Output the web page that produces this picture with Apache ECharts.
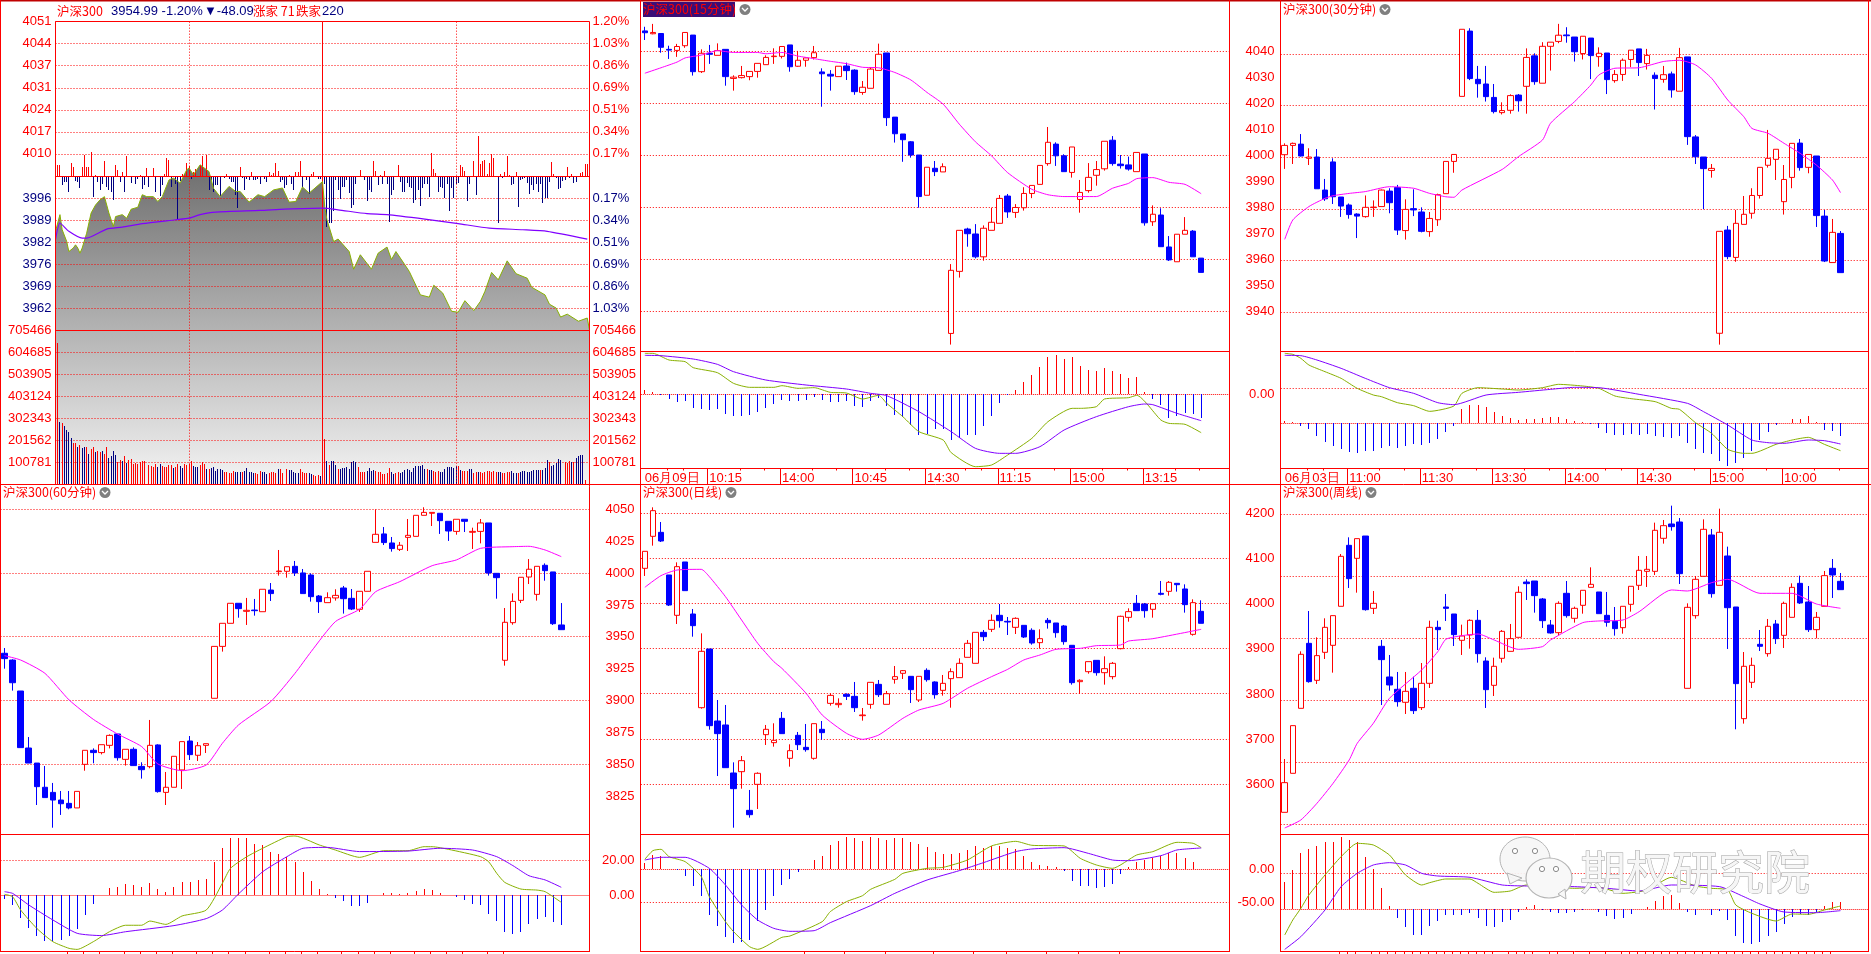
<!DOCTYPE html>
<html><head><meta charset="utf-8">
<style>html,body{margin:0;padding:0;background:#fff}#c{width:1871px;height:954px}</style>
<script src="https://cdn.jsdelivr.net/npm/echarts@6/dist/echarts.min.js"></script>
</head><body><div id="c"></div>
<script>
// ===== Intraday (分时) =====
const dayPrice=[[0,3985.8],[2,3991],[3,3986.3],[5,3982.7],[6,3979.5],[8,3980.6],[9,3981.6],[10,3980.6],[11,3979],[12,3980.6],[14,3985.2],[16,3991.5],[18,3994],[20,3995.6],[22,3996.6],[24,3991.5],[26,3987.3],[27,3990.4],[30,3991],[32,3989.9],[34,3992.7],[37,3993.3],[39,3997.2],[41,3996.6],[44,3996.6],[46,3995.1],[48,3996.6],[51,4001.8],[53,4002.4],[56,4000.8],[59,4005],[60,4005.5],[62,4003.4],[65,4006.5],[69,4004.4],[71,3999.2],[74,3996.6],[78,3999.8],[81,3998.2],[83,3998.2],[87,3994.9],[91,3997.2],[94,3996.6],[98,3998.7],[102,3999.3],[105,3994.9],[108,3995.1],[111,3999.6],[114,3997.7],[120,4001.3],[121,3993.5],[122,3989.4],[125,3982.6],[127,3983.4],[132,3979.5],[134,3974],[137,3978.5],[142,3974],[145,3979],[149,3980.9],[151,3977],[153,3979.5],[157,3975.4],[159,3973.3],[164,3966],[168,3965.3],[170,3969],[174,3966.6],[178,3960.9],[181,3960.6],[184,3964.2],[188,3961.1],[191,3964],[193,3967.1],[196,3973],[199,3970.7],[203,3976.6],[207,3972.6],[212,3971.2],[214,3968.4],[220,3966],[222,3963.1],[225,3961.9],[227,3959.1],[230,3960],[235,3957.8],[239,3958.8],[240,3955]];
const dayAvg=[[0,3983.2],[2,3988.4],[6,3985.8],[12,3983.7],[14,3983.7],[23,3986.5],[30,3987.1],[39,3988.2],[54,3989.4],[60,3989.9],[65,3991],[72,3991.8],[92,3992.3],[103,3992.7],[120,3993],[127,3992.5],[140,3991.3],[149,3991],[166,3989.6],[181,3988.2],[195,3986.8],[210,3986.3],[221,3985.8],[239,3983.4]];
const dayBreadth=[[1,33],[2,33],[3,-25],[4,-16],[5,-18],[6,-47],[7,40],[8,28],[9,-14],[10,-17],[11,-35],[12,28],[13,65],[14,28],[15,28],[16,73],[17,-62],[18,4],[19,-17],[20,-40],[21,-22],[22,46],[23,-32],[24,-40],[25,-46],[26,-70],[27,33],[28,19],[29,-17],[30,12],[31,-47],[32,62],[34,-20],[36,-22],[37,-8],[38,4],[39,-38],[40,-25],[41,25],[42,-32],[44,25],[45,-47],[47,-60],[48,-25],[49,6],[50,55],[51,49],[52,-32],[54,-22],[55,-130],[56,-15],[57,6],[58,7],[59,40],[60,30],[61,-8],[62,12],[63,22],[65,33],[66,60],[68,65],[69,-40],[70,-10],[71,-48],[72,-25],[73,-25],[74,-60],[76,-5],[77,8],[78,-8],[79,-17],[80,-17],[81,-55],[82,-95],[83,28],[84,-5],[85,-40],[86,-8],[87,-10],[88,12],[89,-10],[90,-12],[91,-8],[92,-22],[94,-8],[95,-17],[96,12],[97,5],[98,10],[99,40],[100,15],[101,-16],[102,-12],[103,-35],[104,-27],[105,5],[106,-22],[107,-40],[108,12],[109,12],[110,45],[111,-32],[113,-10],[114,-52],[115,8],[116,12],[118,-8],[119,-8],[120,-10],[121,-22],[122,-152],[123,-140],[124,-140],[125,-105],[126,-12],[127,-40],[128,-68],[129,-32],[130,-32],[131,-12],[132,-50],[133,-95],[134,-85],[135,-22],[137,20],[139,-12],[140,-74],[141,-40],[142,-47],[143,47],[144,16],[145,-26],[146,4],[147,-24],[148,16],[149,-24],[150,-138],[151,-55],[152,-40],[154,33],[155,-18],[156,-47],[157,-47],[158,-20],[159,-33],[160,-35],[161,-80],[162,-70],[163,-40],[164,-88],[165,-35],[166,-24],[167,-24],[168,-62],[169,70],[170,22],[171,10],[172,-47],[173,-32],[174,-35],[175,-65],[176,-24],[177,-105],[178,-35],[179,-65],[180,-22],[181,-20],[182,35],[183,28],[184,16],[185,-75],[186,-24],[188,45],[189,-55],[190,120],[191,36],[192,46],[193,50],[194,6],[195,40],[196,68],[197,55],[199,-140],[200,7],[201,-5],[202,12],[203,60],[204,4],[205,-26],[206,-22],[207,12],[208,-92],[209,-12],[210,-8],[211,-5],[212,-20],[213,-52],[214,-26],[215,-42],[216,-24],[217,-47],[218,-24],[219,-80],[220,-65],[221,-65],[222,-18],[223,43],[224,7],[225,-5],[226,-38],[227,-35],[228,-14],[229,-12],[230,27],[231,-5],[232,7],[233,-20],[234,-18],[236,10],[237,14],[238,37],[239,37]];
const dayVol=[0,647,284,280,267,249,240,213,191,191,169,182,164,169,173,138,160,173,147,151,147,151,138,169,120,129,151,133,102,111,107,129,98,111,116,93,98,93,102,107,107,0,89,84,80,93,80,93,84,80,80,89,89,76,80,93,84,76,93,89,93,107,84,80,80,89,102,93,71,71,76,80,62,71,71,67,58,58,53,53,62,58,58,58,58,62,76,58,58,53,53,49,62,58,58,49,53,58,58,53,71,71,53,0,71,67,67,58,53,53,71,58,53,53,53,49,44,40,44,40,84,
209,107,89,107,107,89,71,71,76,76,80,71,102,107,102,80,58,58,58,62,76,62,67,62,58,58,49,49,53,76,58,49,53,58,53,58,67,71,67,58,76,84,84,84,89,71,71,67,67,62,58,62,58,58,71,80,80,80,76,84,84,67,62,62,62,71,71,53,58,58,58,53,58,62,62,58,62,58,58,58,53,53,58,58,62,53,53,53,58,62,62,58,58,62,67,67,67,67,67,76,111,102,84,89,98,116,111,0,102,98,107,102,102,120,129,133,133,18,0,0];
const dayVolSide="rbrbbbbrrbrbbrbrrbrrbrrbbbbrrbrbrrrrrrrrbrrrrbbrrrrrbrrbbrrrrbbbrrrbrbbbbbbrrrrrbbbrbbbbbrrrbbbrrrrbrrbrbbbbbrrrrbbrrrbrr"+"brbbbrbbbbbbbbrrrrbbbbrrrrrrrbbrrbbbbbbbbbbbbrbbrrrbbbbbbbbrbrrrbbrrbrrrrrrrrbbrrrrbbbrbbbbbbbbbrbbbrbbbbbbrrrbrbbbbrrrr";
const dayLeftLabels=['4051','4044','4037','4031','4024','4017','4010','','3996','3989','3982','3976','3969','3962','705466','604685','503905','403124','302343','201562','100781',''];
const dayRightLabels=['1.20%','1.03%','0.86%','0.69%','0.51%','0.34%','0.17%','','0.17%','0.34%','0.51%','0.69%','0.86%','1.03%','705466','604685','503905','403124','302343','201562','100781',''];

// ===== 15 min =====
const m15Candles=[[4048,4047.3,4044.5,4049.6],[4046.9,4047.4,4046.7,4050.7],[4047,4041.7,4039.6,4047],[4040.9,4040.6,4037.2,4042.3],[4040.5,4042,4038,4043],[4042.3,4047.4,4041.5,4047.4],[4046.4,4032.3,4030.8,4046.4],[4032.3,4039.4,4031.8,4040.9],[4039.4,4039,4035.3,4042.6],[4038.6,4040.4,4038.6,4043.2],[4040.9,4030.4,4026.9,4040.9],[4029.7,4030.2,4025,4030.9],[4030,4030.8,4029.7,4034.5],[4030.4,4032.4,4029,4032.4],[4032.4,4035.5,4030,4035.5],[4035,4037.8,4035,4038.6],[4038.1,4038.3,4035.3,4041.3],[4038.2,4042,4037.4,4042],[4042.6,4034.2,4032.3,4042.6],[4034.4,4036.7,4034.2,4040.3],[4036.7,4037.6,4034.2,4037.8],[4037.7,4039.6,4037,4042.2],[4032.2,4031.5,4018.8,4033.6],[4031.3,4030.6,4025,4032.9],[4030.4,4034.4,4030.4,4034.4],[4034.5,4032.7,4029.1,4035.8],[4032.9,4024.6,4023.4,4033.2],[4024.3,4026.3,4023.4,4028.7],[4025.9,4033.3,4025.9,4034],[4032.8,4039,4032.8,4043.1],[4039.5,4014.6,4011.4,4039.5],[4014.8,4008.4,4005,4014.8],[4008.3,4006.1,3997.6,4008.3],[4005.3,4000.2,3999.2,4005.6],[4000.2,3984.2,3979.9,4000.2],[3984.7,3995.5,3984.7,3995.5],[3995.1,3993.8,3992.1,3997.9],[3993.7,3995.7,3993.7,3997],[3931.5,3955.8,3927.2,3958.2],[3955.4,3971.2,3953,3971.2],[3971.7,3969.9,3964.9,3972.2],[3969.8,3961,3960.4,3973.6],[3961,3972,3959.5,3973.1],[3971.2,3974.3,3971.2,3979.9],[3973.9,3983.5,3973.9,3984.8],[3984.4,3978.3,3976,3985.2],[3978.1,3980,3976,3981.3],[3979.9,3985.4,3978.8,3987.8],[3985.4,3988.5,3983.6,3988.5],[3988.9,3996.2,3988.9,3996.2],[3996.9,4005.1,3996.1,4011],[4004.4,3999.9,3996,4005.1],[3999.9,3993.8,3993.8,4000.5],[3993.5,4003.3,3991.5,4003.3],[3983.1,3985.8,3978,3990.6],[3986.5,3991.6,3985.7,3997.1],[3992.4,3994.6,3988.4,3997.9],[3994.9,4005.5,3994.2,4005.5],[4005.9,3996.9,3996.1,4007.5],[3996.7,3996.1,3995,4000.2],[3996.4,3994.8,3994.2,3999.6],[3993.8,4001.2,3993.8,4001.2],[4000.6,3974.1,3973,4000.6],[3974.5,3977.4,3972.9,3980.8],[3977.1,3964.9,3964.9,3979.7],[3964.8,3959.8,3959.4,3969],[3959.1,3969.7,3959.1,3969.7],[3969.7,3971.2,3969.7,3976.3],[3970.9,3961,3961,3971.3],[3960.5,3955,3955,3960.5]];
const m15Ma=[[0,4031.7],[2,4033.8],[4,4036],[5,4037.6],[7,4038.7],[9,4040.4],[11,4039.7],[14,4039.7],[15,4039.2],[17,4039.7],[19,4038.3],[21,4037.3],[23,4036.3],[25,4035.4],[27,4034],[29,4033.8],[31,4032],[33,4029.1],[35,4024.3],[37,4019.8],[39,4012.1],[41,4005.3],[43,3999.9],[45,3993.4],[48,3987],[50,3984.9],[52,3984.2],[56,3984.2],[58,3987.4],[60,3989.3],[61,3991.1],[63,3991.5],[65,3989.7],[67,3988.9],[69,3985.3]];
const m15Hist=[1.2,.7,-.2,-1.4,-2.2,-2,-4.1,-4.4,-4.6,-4.4,-5.9,-6.5,-6.4,-6.1,-5.3,-4,-2.9,-1.7,-2,-2.1,-1.7,-.9,-1.7,-2.2,-2.2,-2,-3.4,-3.8,-2.1,-1,-3.5,-6.2,-6.8,-9.2,-12.2,-12,-10.4,-10.5,-13.7,-13,-12.1,-12.2,-9.5,-6.4,-2.6,-.2,1.2,3.7,5.8,8.2,11.2,11.8,10.6,11.1,8.5,7.3,6.9,7.8,7,6,4.8,5.1,.7,-1.3,-3.1,-7,-6.4,-5.5,-6,-7];
const m15Dif=[[0,12.3],[1,12.3],[3,10.3],[5,9.8],[6,8],[9,6.5],[11,3.3],[13,2.1],[16,2.1],[17,2.6],[19,1.8],[21,2],[23,.6],[25,.4],[27,-1.4],[29,-.3],[30,-2.7],[32,-6.7],[34,-11.2],[37,-13.7],[38,-17.5],[41,-21.7],[43,-21.2],[45,-18.2],[48,-13.2],[50,-8.2],[53,-4.2],[54,-4.2],[56,-3.7],[57,-1.4],[60,-1],[61,-.3],[64,-7.7],[65,-8.7],[67,-9],[69,-11.5]];
const m15Dea=[[0,11.7],[2,11.6],[6,10.6],[9,9],[11,6.8],[15,4.3],[20,2.8],[25,1.6],[28,.3],[30,-.4],[34,-5.2],[38,-11.2],[41,-16.2],[44,-17.7],[46,-17.7],[49,-15.7],[52,-10.7],[56,-6.7],[60,-3.7],[62,-2.9],[63,-3.1],[66,-5.7],[69,-7.9]];
const m15Labels=[4040,4030,4020,4010,4000,3990,3980,3970,3960,3950,3940];
const m15Grid=[4040,4020,4000,3980,3960,3940];
const m15Times=['06月09日','10:15','14:00','10:45','14:30','11:15','15:00','13:15'];

// ===== 30 min =====
const m30Candles=[[4001.1,4004.7,3995.6,4005.5],[4004.7,4005.5,3997.5,4005.8],[4005.2,4000.6,4000.4,4009.1],[3999.7,4000.2,3997.1,4003.6],[4000.2,3987.9,3987.9,4003.3],[3987.4,3984,3983.2,3991.7],[3998.3,3984.8,3982,3999.7],[3984.7,3981.2,3977,3984.7],[3981.6,3977.9,3976.3,3982.2],[3978.1,3977.3,3968.8,3978.4],[3977.1,3980.7,3976.7,3985.3],[3980.6,3980.8,3977,3983.4],[3981,3987.4,3981,3987.6],[3987,3982.5,3978.4,3988.1],[3988.4,3971.9,3970,3989.4],[3971.7,3979.9,3968.2,3983.8],[3980.2,3979.7,3977.3,3987.7],[3978.9,3971.4,3971,3980.7],[3971.3,3976.4,3969.3,3978.9],[3975.9,3985.6,3973.5,3986],[3986,3998.5,3986,3998.5],[3998.5,4001.2,3994.1,4001.2],[4023.7,4049.7,4023.7,4049.7],[4049,4030.6,4030,4050.1],[4030.3,4028.6,4023.2,4035.5],[4028.5,4023.6,4021.7,4035.5],[4023.3,4017.8,4017.1,4028.5],[4017.4,4018.2,4016.7,4021.4],[4018.3,4024,4017,4024.5],[4024.2,4022,4017.8,4024.6],[4027.6,4038.8,4017,4042.3],[4039.4,4029.4,4028.2,4040.4],[4028.8,4043.1,4028.8,4044.7],[4043.1,4044.7,4033.7,4044.7],[4045,4047.4,4044.3,4051.8],[4047.5,4047.2,4044.5,4050.5],[4046.7,4041,4037.2,4046.7],[4040.3,4047,4038,4047],[4046.3,4039.5,4030.4,4046.3],[4039.1,4040.4,4035.2,4042.7],[4040.5,4030.2,4024.6,4040.5],[4029.8,4032.2,4029,4033.9],[4032.2,4037.7,4029.7,4038.4],[4038,4041.6,4035,4041.6],[4042.1,4036.8,4031.6,4042.1],[4036.4,4039.6,4034.1,4042.1],[4031.9,4030.6,4018.6,4033],[4030.3,4032.1,4029,4035.5],[4032.4,4026.2,4023.2,4033.3],[4025.7,4038.7,4025.7,4042.5],[4039,4008.1,4004.9,4039],[4008,4000.3,3997.5,4008.7],[4000.2,3995.7,3980,4000.2],[3995,3995.8,3992.2,3997.5],[3931.9,3971.4,3927.5,3971.4],[3971.9,3961.6,3960.6,3973.5],[3961.3,3974.5,3959.6,3979.7],[3974.1,3978,3974.1,3985.1],[3978.4,3985.3,3976.3,3988.1],[3985.3,3996.2,3984.1,3996.2],[3997,3999.7,3996.1,4010.7],[3999.3,4003.2,3991.3,4003.2],[3982.9,3991.5,3977.9,3997.1],[3992.3,4005.5,3988.1,4005.5],[4005.6,3996.1,3994.9,4007.2],[3996.2,4001.2,3993.9,4001.2],[4000.6,3977.5,3973.1,4000.6],[3977.3,3959.9,3959.5,3979.7],[3959.3,3971,3959.3,3976.2],[3970.6,3955.4,3955.4,3971.5]];
const m30Ma=[[0,3968.3],[1,3975.8],[3,3981],[5,3984.2],[6,3985.2],[8,3986.1],[10,3986.8],[13,3988.7],[16,3988.1],[18,3986.1],[20,3984.8],[21,3984.6],[22,3987.4],[27,3995.4],[29,4000.3],[32,4006.8],[33,4013.3],[36,4021.7],[38,4028.1],[39,4032],[41,4034.6],[44,4034.8],[47,4037.2],[49,4037.7],[51,4035.9],[53,4030.7],[55,4022.3],[57,4015.8],[58,4011.3],[60,4009.4],[62,4005.5],[64,4001.6],[66,3997.1],[68,3991.3],[69,3986.4]];
const m30Hist=[.8,.3,-.8,-1.6,-3.8,-5.5,-6.8,-7.7,-8.6,-8.8,-8.4,-8.2,-7.3,-6.7,-7.4,-6.8,-6.2,-6.5,-5.8,-4.7,-2.5,-.7,4.3,5.5,5.5,4.9,3.4,2.2,1.6,1,1.3,1.3,1.7,2,2,1.4,.7,.4,-.3,-1.3,-2.9,-3.4,-3.4,-3.1,-3.4,-3.1,-3.9,-4.1,-4.5,-3.9,-5.8,-7.8,-8.9,-9.1,-11.2,-12.7,-11.8,-10.3,-8.4,-5.1,-2.6,-.4,0,1.2,1.2,2.2,.3,-2,-2.2,-3.7];
const m30Dif=[[0,21],[1,20.7],[2,19.5],[3,17.5],[5,15.5],[7,13.5],[9,10.5],[11,8.5],[12,8],[14,6.2],[16,5.3],[18,3.6],[21,5.2],[22,9],[24,10.7],[27,10.3],[29,10],[32,10.7],[34,11.7],[37,11.2],[39,10.5],[41,8.2],[43,7.4],[46,6.5],[48,4.5],[49,4.2],[51,.2],[53,-3],[55,-7.8],[57,-9],[58,-9],[61,-6.3],[63,-5],[65,-4.2],[67,-6.3],[69,-8.2]];
const m30Dea=[[0,20.4],[2,20.3],[4,19],[7,16.5],[10,13.5],[13,10.7],[16,9],[19,6.2],[21,5.6],[25,8.5],[29,9.3],[33,10.2],[36,10.8],[39,10.7],[44,8.7],[50,6],[52,3.5],[55,-.5],[58,-5],[60,-5.8],[62,-6],[65,-5],[67,-5.2],[69,-6.2]];
const m30Grid=[4040,4020,4000,3980,3960,3940];
const m30Times=['06月03日','11:00','11:30','13:30','14:00','14:30','15:00','10:00'];

// ===== 60 min =====
const m60Candles=[[3937.1,3932.9,3925,3941.2],[3931.8,3914,3907.8,3932.4],[3907.5,3863.1,3863.1,3907.5],[3862.8,3851,3851,3871.4],[3851,3832.5,3818.1,3851],[3832,3823.9,3823.9,3848.7],[3828,3822,3800.3,3835.4],[3822,3819.1,3810.3,3829.1],[3819.4,3815.8,3814.7,3829.1],[3815.8,3828.8,3815.8,3828.8],[3850,3861,3845,3861],[3861,3859.2,3850.8,3862.5],[3859.2,3865.4,3857.8,3865.4],[3864.9,3872.7,3862.5,3873.5],[3873.8,3855.2,3852.9,3873.8],[3853.9,3861.8,3849,3861.8],[3861.8,3849,3849,3863.3],[3848.4,3845.8,3838.8,3851.6],[3848.2,3864.9,3846.9,3884.8],[3865.2,3828.6,3827.8,3865.7],[3828,3832,3818.1,3844],[3832,3856.3,3832,3856.3],[3845.6,3867.8,3830.7,3867.8],[3868.3,3857.6,3853.4,3872.2],[3857.1,3864.6,3852.6,3867.5],[3864.9,3866.2,3858.9,3866.2],[3901.8,3942.5,3901.8,3942.5],[3942.5,3960.6,3938.4,3960.6],[3960.6,3976.3,3960.6,3976.3],[3976.3,3972.1,3965,3976.3],[3970,3970.8,3959.3,3980.5],[3971,3970.5,3966.6,3979.7],[3969.7,3987.3,3969.7,3987.3],[3986.7,3983.9,3978.1,3992.2],[4001.1,4001.6,3998,4018.1],[4001.4,4005,3996.4,4005],[4005.3,4000.1,3997.7,4009.5],[4000.1,3983.9,3983.9,4003.2],[3998.5,3981.5,3977.6,3999.8],[3982,3977.6,3968.7,3982.8],[3976.8,3980.7,3976.8,3984.9],[3980.5,3982.5,3978.4,3987.3],[3988.3,3979.9,3968.2,3989.9],[3980.2,3971.8,3971,3987.5],[3971.6,3985.7,3969.5,3985.7],[3985.7,4001.4,3985.7,4001.4],[4024.1,4030.4,4024.1,4050],[4030.7,4023.9,4022,4036.1],[4023.6,4019.2,4016.8,4028.3],[4018.6,4021.8,4017.3,4024.4],[4028,4029.6,4017.3,4042.4],[4028.8,4045.3,4028.8,4045.3],[4045.3,4047.6,4045.3,4051.6],[4046.9,4047.6,4036.9,4047.6],[4046.9,4041.1,4030.7,4046.9],[4040.6,4033,4025.2,4040.6],[4032.7,4042.2,4030.1,4042.2],[4042.2,4040.6,4032.2,4042.2],[4032,4032.7,4018.9,4035.6],[4032.7,4039.3,4023.3,4042.4],[4039.3,4000.1,3998,4039.3],[3999.8,3996.4,3979.9,3999.8],[3931.6,3961.4,3927.4,3972.6],[3961.1,3977.8,3959.5,3984.1],[3978.6,3996.7,3976.5,3996.7],[3996.9,4003,3991.4,4011],[3983.3,4005.3,3978.4,4005.3],[4006.1,4001.9,3994,4007.6],[4000.9,3960.3,3959.3,4000.9],[3959.3,3955.6,3955.6,3976.5]];
const m60Ma=[[0,3935.2],[2,3931.8],[5,3921.4],[8,3900.5],[11,3885.3],[14,3873.8],[17,3863.9],[19,3850.3],[22,3845],[25,3849.5],[27,3866.5],[29,3880.9],[33,3899.2],[36,3921.4],[38,3938.4],[41,3961.9],[44,3971.6],[46,3985.4],[49,3993.3],[53,4005.8],[56,4010.3],[59,4019.4],[63,4020.7],[65,4021],[67,4018.1],[69,4012.9]];
const m60Hist=[-2.3,-5.5,-13,-18.7,-23.2,-26,-26,-25.5,-23,-19.4,-11.2,-5,0,4.2,4.8,6.5,5.7,4.6,7.2,3.6,2,4.8,7.7,7.7,9,9.5,19.2,27,32.6,33,32.6,29.5,28.6,25,23.7,22,19.2,13.5,8.3,3.6,.6,-1.5,-3,-6,-6,-4.5,0,1.4,1.3,.6,1.3,2.7,3.8,3,1.1,.3,-1.2,-2.5,-5,-5.5,-10.7,-14.7,-20.9,-22,-21,-16.3,-13.7,-12.6,-15.2,-17];
const m60Dif=[[0,.6],[1,-.8],[2,-8.4],[4,-18.9],[6,-26.5],[8,-30.3],[9,-30.9],[11,-26.5],[13,-20.8],[15,-17.1],[17,-17.1],[18,-14.7],[20,-16.6],[22,-11.8],[25,-8.4],[27,6.9],[28,15.4],[30,22],[32,26.9],[35,33.5],[36,33.9],[39,28.8],[41,25.9],[44,21.7],[47,25.5],[50,25.5],[52,27.8],[53,27.8],[55,26.3],[59,22.1],[60,19.2],[61,12.6],[62,7.4],[64,3.6],[66,3],[67,2.1],[69,-4]];
const m60Dea=[[0,2.1],[1,1.1],[3,-5.5],[6,-14.1],[9,-21.7],[12,-23],[15,-20.8],[21,-17.3],[25,-13.3],[27,-8.4],[29,.8],[32,13.5],[35,22.1],[37,26.9],[40,27.4],[44,25],[50,25.3],[54,26.9],[58,25.9],[61,22.1],[63,17],[65,11.2],[67,8.8],[69,4.6]];
const m60Labels=[4050,4025,4000,3975,3950,3925,3900,3875,3850,3825];
const m60Grid=[4050,4000,3950,3900,3850];
const m60MacdLabels=[20,0];

// ===== Daily =====
const dayKCandles=[[4078.2,4115.9,4061.3,4115.9],[4149.1,4205.9,4128.4,4213.3],[4157.9,4138.7,4136.5,4180.8],[4063.5,3997,3994.8,4063.5],[3974.2,4081.9,3955,4091.5],[4092.3,4028.8,4028.8,4092.3],[3977.1,3951.3,3926.9,3988.2],[3769.7,3894.5,3767.5,3934.3],[3899.6,3729.9,3721,3899.6],[3740.2,3712.2,3618.4,3786.7],[3731.4,3636.9,3636.9,3775.7],[3625.1,3590.4,3504,3648.7],[3628,3652.4,3590.4,3662.7],[3542.4,3532.8,3526.2,3587.5],[3600,3624.4,3545.4,3626.6],[3710,3721.8,3687.1,3731.4],[3692.3,3697.4,3683.4,3735.1],[3746.1,3712.2,3712.2,3760.2],[3657.6,3674.5,3639.1,3688.6],[3708.5,3687.8,3676,3715.9],[3681.9,3676.8,3672.3,3733.6],[3657.6,3734.3,3654.6,3734.3],[3721.8,3714.4,3698.9,3740.2],[3779.3,3797,3774.2,3801.5],[3776.4,3779.3,3769.7,3790.4],[3799.3,3794.8,3786.7,3801.5],[3794.8,3769.7,3760.2,3826.6],[3752,3753.5,3741,3769],[3777.1,3825.8,3767.5,3825.8],[3821.4,3798.5,3793.4,3831],[3777.1,3800.7,3777.1,3806.6],[3832.5,3838.4,3822.9,3862],[3845.8,3851.7,3833.2,3853.1],[3839.1,3809.6,3780.1,3839.1],[3786.7,3839.1,3782.3,3839.1],[3852.4,3831.7,3827.3,3856.8],[3826.6,3798.5,3789.7,3828],[3808.1,3823.6,3796.3,3842.1],[3834,3849.4,3769.7,3856.8],[3836.2,3867.9,3836.2,3879],[3881.2,3912.2,3881.2,3919.6],[3867.9,3936.5,3867.9,3936.5],[3936.5,3926.9,3917.3,3941.7],[3943.2,3963.1,3937.3,3976.4],[3974.2,3962.4,3946.9,3999.3],[3960.9,3959.4,3930.6,3970.5],[3947.6,3967.5,3932.8,3969.7],[3952,3926.2,3924,3952],[3941,3912.9,3909.2,3945.4],[3913.7,3922.5,3900.4,3943.2],[3963.1,3957.9,3944.7,3968.3],[3957.2,3935.8,3924.7,3957.2],[3950.6,3915.9,3909.2,3952.8],[3907.8,3825.1,3820.7,3907.8],[3827.3,3830.3,3800,3832.5],[3849.4,3871.6,3845,3871.6],[3874.5,3847.2,3840.6,3874.5],[3847.2,3856.1,3820.7,3883.4],[3838.4,3867.9,3832.5,3870.9],[3900.4,3972,3898.9,3973.4],[3969.7,3982.3,3960.1,3989.7],[4000.7,3984.5,3984.5,4019.2],[3999.3,3984.5,3969,4001.5],[3987.5,4000,3969,4000],[4022.9,4020.7,4018.5,4050.2],[4027.3,4047.2,4017.7,4050.2],[4045,4042,4026.6,4045],[4032.5,3997.8,3980.1,4042.8],[3932.1,4002.2,3929.2,4009.6],[3983,3956.5,3956.5,4007.4]];
const dayKMa=[[0,4036.2],[2,4062],[4,4074.5],[7,4076],[8,4059.8],[10,4015.5],[12,3963.8],[14,3912.2],[16,3871.6],[17,3856.8],[20,3801.5],[22,3753.5],[25,3713],[27,3699.6],[29,3709.2],[32,3746.1],[34,3764.6],[37,3779.3],[40,3812.5],[43,3838.4],[45,3854.6],[47,3875.3],[49,3886.3],[51,3898.9],[54,3901.1],[56,3907],[59,3908.5],[60,3917.3],[63,3922.5],[69,3943.2]];
const dayKHist=[9,21.7,20.2,0,-.5,-10,-25,-40,-69,-86,-102,-111,-110,-107,-79,-62,-41,-24,-15,-3.5,0,14,20,37,43,49,47,43,49,47,45,47,47,41,38,34,26,23,23,25,30,35,32,35,35,33,31,20,11,6.5,5,3,-2,-17.7,-26,-25,-28,-27,-22,-7,3,11,13.6,17,20,25,24,17,11,.5];
const dayKDif=[[0,15.2],[1,28.3],[2,30.3],[3,19.2],[5,11.6],[7,-11.1],[8,-41.4],[10,-79.3],[11,-94.4],[13,-117.2],[14,-121.2],[17,-103],[18,-101],[22,-79.3],[23,-64.1],[25,-49],[27,-39.9],[28,-30.3],[31,-15.2],[32,-6.1],[35,1.5],[37,3],[40,14.1],[43,35.4],[46,42.4],[48,36.4],[52,35.4],[54,16.7],[56,6.6],[58,1.5],[61,21.7],[63,26.8],[66,40.9],[68,39.4],[69,32.8]];
const dayKDea=[[0,14.1],[2,18.2],[5,18.2],[8,1.5],[10,-23.7],[12,-54],[14,-76.8],[16,-89.4],[18,-93.9],[21,-92.9],[23,-80.8],[28,-55],[31,-36.4],[35,-16.2],[39,-2],[42,10.1],[46,26.8],[48,30.8],[52,32.8],[55,24.2],[58,14.1],[60,13.1],[64,20.7],[66,29.3],[69,32.3]];
const dayKLabels=[4200,4100,4000,3900,3800,3700,3600];
const dayKMacdLabels=[0,-50];

// ===== Weekly =====
const wkCandles=[[3238.9,3334.6,3238.9,3410.9],[3364.7,3518.4,3364.7,3518.4],[3574.3,3748.5,3574.3,3758.1],[3783.9,3660.3,3657,3888.2],[3664.6,3744.2,3652.8,3803.3],[3754.9,3835.5,3733.4,3864.6],[3777.5,3873.2,3689.3,3873.2],[3903.3,4064.5,3903.3,4072],[4100,3992.5,3962.4,4125.8],[4058,4121.5,3947.3,4121.5],[4130,3892.5,3889.3,4130],[3896.8,3912.9,3878.5,3952.7],[3774.3,3731.3,3585,3794.7],[3675.4,3649.6,3631.3,3746.3],[3635.6,3595.8,3579.7,3691.5],[3593.7,3629.1,3556,3691.5],[3638.8,3566.8,3556,3676.4],[3576.5,3655,3568.9,3720.5],[3655,3835.5,3639.9,3857],[3835.5,3828,3762.4,3857],[3901.1,3896.8,3856,3943],[3878.5,3811.9,3775.3,3878.5],[3793.6,3807.6,3746.3,3844.1],[3810.8,3858.1,3766.7,3861.3],[3858.1,3750.6,3721.6,3891.4],[3726.9,3634.5,3575.4,3738.8],[3648.5,3709.8,3614,3737.7],[3735.6,3822.6,3721.6,3826.9],[3758.1,3799,3758.1,3846.3],[3803.3,3948.4,3803.3,3967.8],[3981.7,3976.4,3923.7,3990.3],[3984.9,3937.7,3882.8,3984.9],[3926.9,3857,3833.4,3930.1],[3843,3817.3,3815.1,3859.2],[3818.3,3912.9,3809.7,3919.4],[3945.2,3873.2,3866.7,3984.9],[3864.6,3896.8,3850.6,3902.2],[3906.5,3954.9,3879.6,3954.9],[3964.5,3974.2,3964.5,4029],[3949.5,3879.6,3879.6,3949.5],[3874.2,3851.7,3837.7,3949.5],[3854.9,3831.2,3808.7,3901.1],[3834.4,3903.3,3815.1,3903.3],[3909.7,3967.8,3886,3967.8],[3971,4019.4,3955.9,4065.6],[4016.1,4022.6,3965.6,4065.6],[4016.1,4148.4,4004.3,4173.1],[4122.6,4163.4,4105.4,4181.7],[4168.8,4160.2,4147.3,4227.9],[4175.2,4008.6,3975.3,4188.1],[3638.8,3900,3638.8,3912.9],[3873.2,3990.3,3863.5,4001.1],[4000,4151.6,4000,4183.8],[4133.3,3944.1,3931.2,4152.7],[3971,4141.9,3971,4218.2],[4065.6,3898.9,3765.7,4095.7],[3901.1,3653.9,3506.6,3901.1],[3541,3709.8,3524.9,3755.9],[3658.2,3713,3639.9,3737.7],[3780.7,3774.3,3759.2,3826.9],[3750.6,3838.8,3740.9,3862.4],[3846.3,3799,3781.8,3859.2],[3809.7,3912.9,3768.9,3918.3],[3867.8,3964.5,3867.8,3977.4],[3977.4,3914,3910.8,4002.2],[3917.2,3828,3820.5,3968.8],[3828,3867.8,3800,3885],[3903.3,4002.2,3903.3,4017.2],[4025.8,4004.3,3930.1,4055.9],[3983.9,3957,3957,4010.8]];
const wkMa=[[0,3188.4],[2,3214.2],[4,3268],[6,3332.4],[8,3407.7],[9,3461.4],[11,3526],[13,3606.5],[17,3698],[19,3757],[20,3796.8],[22,3808.6],[24,3814],[26,3794.7],[29,3764.6],[32,3773.2],[33,3794.7],[37,3850.6],[39,3856],[42,3859.2],[44,3886],[48,3956],[50,3952.7],[53,3979.6],[55,3990.3],[59,3945.2],[63,3945.2],[66,3910.8],[69,3897]];
const wkHist=[41.5,59,84,91,95,101,101,108.5,103.5,101,78.5,60.5,32,5,-13.5,-26,-38,-38,-24.5,-17.5,-8,-8,-8,-5,-12.5,-24.5,-26,-18.5,-16,-3.5,3,6.5,-1,-3.5,-5,-6,-3.5,-1,0,-4,-10,-14,-13,-7,0,3,13,20,21.5,9,-3.5,-8.5,0,-9,-2,-16,-39.5,-51,-52.5,-48.5,-39.5,-33.5,-22,-11,-7,-9,-3.5,5,11.5,11.5];
const wkDif=[[0,-38.5],[1,-16],[2,1.5],[3,21.5],[5,51.5],[7,79],[9,99],[11,96.5],[13,81.5],[14,66.5],[15,51.5],[17,36.5],[18,40],[20,45.5],[23,45.5],[24,39],[26,25.5],[28,27.5],[30,36.5],[33,34],[36,31.5],[39,33],[42,24],[45,29],[48,48],[51,35],[53,31.5],[55,29],[56,6.5],[58,-6],[61,-17.5],[63,-7],[65,-7.5],[67,-1],[69,5]];
const wkDea=[[0,-60],[2,-41],[5,-1],[7,34],[9,54],[11,66.5],[13,70],[15,66.5],[17,54],[19,50],[23,48],[27,36.5],[30,35],[36,34],[40,31.5],[44,27.5],[48,36.5],[54,34],[57,19],[59,8],[62,-4],[66,-5],[69,-2]];
const wkGrid=[4200,4000,3800,3600,3400,3200];

// x-axis tick positions
const dateTicks=[0,8,17,26,35,44,53,62];
const minorTicks=[3,5,12,15,21,24,30,33,40,42,46,51,57,60,66,69];
const m60Ticks=[8,10,12,15,17,19,21,24,26,28,30,33,35,37,39,42,44,46,48,51,53,55,57,60,62];
const dayKTicks=[20,25,30,36,41,45,50,54,59];
const wkTicks=[7,8,9,11,12,13,14,15,16,17,18,19,20,21,22,23,24,25,26,28,29,30,31,33,34,36,38,40,42,43,44,45,46,47,48,49,50,51,52,53,54,55,56,57,58,59,60,61,62,63,64,65,66,67,68];

// ===== Drawing =====
const RED='#ff0000',BLUE='#0000ff',NAVY='#000080',MAG='#ff00ff',GRN='#88b000',PUR='#8000ff';
const NUM="'Liberation Sans',sans-serif", CJK="'Noto Sans CJK SC',sans-serif";
const NS=13;
const DOT=[1,2];
const SM=0.2;
const grids=[],xAxes=[],yAxes=[],series=[];

// dotted horizontal guides at axis values, snapped to whole pixels
function hGuides(xi,yi,vals,dash){
  return {type:'custom',xAxisIndex:xi,yAxisIndex:yi,data:vals.map(v=>[0,v]),silent:true,z:1,animation:false,clip:false,encode:{x:0,y:1},
    renderItem:(params,api)=>{
      const y=Math.round(api.coord([0,api.value(1)])[1]-.5)+.5,c=params.coordSys;
      return {type:'line',shape:{x1:c.x,y1:y,x2:c.x+c.width,y2:y},style:{stroke:RED,lineWidth:1,lineDash:dash||DOT}};
    }};
}
// vertical guides at category indices
function vGuides(xi,yi,items){
  return {type:'custom',xAxisIndex:xi,yAxisIndex:yi,data:items.map(o=>[o[0],o[1]]),silent:true,z:5,animation:false,clip:false,encode:{x:0},
    renderItem:(params,api)=>{
      const x=Math.round(api.coord([api.value(0),0])[0]-.5)+.5,c=params.coordSys,solid=api.value(1)===1;
      return {type:'line',shape:{x1:x,y1:c.y,x2:x,y2:c.y+c.height},style:{stroke:RED,lineWidth:1,lineDash:solid?null:DOT}};
    }};
}
// one-pixel stems from 0 to the value, drawn through the axis scale
function stems(xi,yi,data,colorOf,z){
  return {type:'custom',xAxisIndex:xi,yAxisIndex:yi,data,silent:true,z,animation:false,clip:true,encode:{x:0,y:1},
    renderItem:(params,api)=>{
      const i=api.value(0),v=api.value(1);
      if(!v) return null;
      const a=api.coord([i,0]),b=api.coord([i,v]),x=Math.round(a[0]-.5)+.5;
      return {type:'line',shape:{x1:x,y1:Math.round(a[1]),x2:x,y2:Math.round(b[1])},style:{stroke:colorOf(i,v),lineWidth:1}};
    }};
}
function ticks(xi,yi,idx,ymin,len,off){
  return {type:'custom',xAxisIndex:xi,yAxisIndex:yi,data:idx.map(i=>[i,ymin]),silent:true,z:21,animation:false,clip:false,encode:{x:0,y:1},
    renderItem:(params,api)=>{
      const c=api.coord([api.value(0),ymin]),x=Math.round(c[0]+off)+.5,y=Math.round(c[1])+.5;
      return {type:'line',shape:{x1:x,y1:y,x2:x,y2:y+len},style:{stroke:RED,lineWidth:1}};
    }};
}

function addPanel(p){
  const g=grids.length, band=Array.from({length:73},(_,i)=>String(i));
  grids.push({left:p.left,top:p.top,width:p.width,height:p.h1});
  grids.push({left:p.left,top:p.top+p.h1,width:p.width,height:p.h2});
  const xm=xAxes.length, ym=yAxes.length;
  xAxes.push({gridIndex:g,type:'category',data:band,show:false});
  const xb={gridIndex:g+1,type:'category',data:band,position:'bottom',
    axisLine:{show:false},splitLine:{show:false},axisTick:{show:false},axisLabel:{show:false}};
  if(p.times){
    xb.axisLabel={show:true,interval:i=>dateTicks.includes(i),formatter:(v,i)=>p.times[dateTicks.indexOf(i)]||'',
      align:'left',color:RED,fontFamily:NUM,fontSize:NS,margin:4,hideOverlap:false};
  }
  xAxes.push(xb);
  const lab=(vals,fmt)=>vals?{show:true,customValues:vals,color:RED,fontFamily:NUM,fontSize:NS,margin:45,align:'right',padding:[2,0,0,0],formatter:fmt}:{show:false};
  yAxes.push({gridIndex:g,type:'value',position:'right',min:p.min,max:p.max,scale:true,axisLine:{show:false},axisTick:{show:false},splitLine:{show:false},axisLabel:lab(p.labels,v=>String(v))});
  yAxes.push({gridIndex:g+1,type:'value',position:'right',min:p.mmin,max:p.mmax,axisLine:{show:false},axisTick:{show:false},splitLine:{show:false},axisLabel:lab(p.mlabels,v=>v.toFixed(2))});
  series.push(hGuides(xm,ym,p.grid));
  series.push({type:'candlestick',xAxisIndex:xm,yAxisIndex:ym,data:p.candles,barWidth:6,silent:true,z:3,animation:false,
    itemStyle:{color:'#ffffff',color0:BLUE,borderColor:RED,borderColor0:BLUE,borderWidth:1}});
  series.push({type:'line',xAxisIndex:xm,yAxisIndex:ym,data:p.ma,showSymbol:false,smooth:SM,silent:true,z:4,animation:false,
    lineStyle:{color:MAG,width:1}});
  series.push(hGuides(xm+1,ym+1,p.mzero,[1,1]));
  if(p.mgrid) series.push(hGuides(xm+1,ym+1,p.mgrid));
  series.push(stems(xm+1,ym+1,p.hist.map((v,i)=>[i,v]),(i,v)=>v>=0?RED:BLUE,3));
  series.push({type:'line',xAxisIndex:xm+1,yAxisIndex:ym+1,data:p.dif,showSymbol:false,smooth:SM,silent:true,z:4,animation:false,
    lineStyle:{color:GRN,width:1}});
  series.push({type:'line',xAxisIndex:xm+1,yAxisIndex:ym+1,data:p.dea,showSymbol:false,smooth:SM,silent:true,z:5,animation:false,
    lineStyle:{color:PUR,width:1}});
  if(p.times){
    series.push(ticks(xm+1,ym+1,dateTicks.slice(1),p.mmin,16,-2));
    series.push(ticks(xm+1,ym+1,minorTicks,p.mmin,2,-2));
  } else if(p.ticks){
    series.push(ticks(xm+1,ym+1,p.ticks,p.mmin,3,-2));
  }
}

// intraday
(function(){
  const cats=Array.from({length:241},(_,i)=>String(i));
  grids.push({left:55.5,top:21.67,width:534,height:462.67});
  xAxes.push({gridIndex:0,type:'category',data:cats,boundaryGap:false,show:false});
  const navyRow=i=>i>=8&&i<=13;
  const idxAxis=(pos,labels,margin,align)=>({gridIndex:0,type:'value',position:pos,min:0,max:21,interval:1,inverse:true,z:3,
    axisLine:{show:false},axisTick:{show:false},splitLine:{show:pos==='left',lineStyle:{color:RED,width:1,type:DOT}},
    axisLabel:{show:true,margin,align,fontFamily:NUM,fontSize:NS,padding:[2,0,0,0],showMinLabel:true,showMaxLabel:true,
      formatter:v=>labels[v]||'',color:v=>navyRow(+v)?NAVY:RED}});
  yAxes.push(idxAxis('left',dayLeftLabels,4,'right'));
  yAxes.push(idxAxis('right',dayRightLabels,3,'left'));
  const hid=(min,max)=>({gridIndex:0,type:'value',min,max,show:false,splitLine:{show:false}});
  yAxes.push(hid(3907,4051.1)); // price
  yAxes.push(hid(-924,464));    // breadth sticks
  yAxes.push(hid(0,2116));      // volume (thousand)
  series.push({type:'line',xAxisIndex:0,yAxisIndex:2,data:dayPrice,showSymbol:false,silent:true,z:1,animation:false,
    lineStyle:{width:0},areaStyle:{opacity:1,origin:'start',color:new echarts.graphic.LinearGradient(0,0,0,1,[{offset:0,color:'#6e6e6e'},{offset:1,color:'#f4f4f4'}])}});
  series.push(stems(0,4,dayVol.map((v,i)=>[i,v]),i=>dayVolSide[i-1]==='b'?NAVY:RED,4));
  series.push(stems(0,3,dayBreadth,(i,v)=>v>=0?RED:NAVY,4));
  series.push(vGuides(0,3,[[60,0],[180,0],[120,1]]));
  series.push({type:'line',xAxisIndex:0,yAxisIndex:2,data:dayPrice,showSymbol:false,silent:true,z:6,animation:false,lineStyle:{color:GRN,width:1}});
  series.push({type:'line',xAxisIndex:0,yAxisIndex:2,data:dayAvg,showSymbol:false,smooth:SM,silent:true,z:7,animation:false,lineStyle:{color:PUR,width:1.2}});
})();

const T1=1.67,H1=349.67,H2=117,T2=484.33,H12=350,H22=117;
addPanel({left:640.8,top:T1,width:588.6,h1:H1,h2:H2,min:3924.6,max:4059.26,mmin:-22.2,mmax:12.9,candles:m15Candles,ma:m15Ma,hist:m15Hist,dif:m15Dif,dea:m15Dea,labels:m15Labels,grid:m15Grid,mlabels:[0],mzero:[0],times:m15Times});
addPanel({left:1280.7,top:T1,width:588,h1:H1,h2:H2,min:3924.9,max:4060.4,mmin:-13.5,mmax:21.6,candles:m30Candles,ma:m30Ma,hist:m30Hist,dif:m30Dif,dea:m30Dea,grid:m30Grid,mzero:[0],mgrid:[10.5],times:m30Times});
addPanel({left:0.5,top:T2,width:589,h1:H12,h2:H22,min:3795.1,max:4069.6,mmin:-32,mmax:34.86,candles:m60Candles,ma:m60Ma,hist:m60Hist,dif:m60Dif,dea:m60Dea,labels:m60Labels,grid:m60Grid,mlabels:m60MacdLabels,mzero:[0],mgrid:[20],ticks:m60Ticks});
addPanel({left:640.8,top:T2,width:588.6,h1:H12,h2:H22,min:3489.3,max:4264.2,mmin:-124.2,mmax:53,candles:dayKCandles,ma:dayKMa,hist:dayKHist,dif:dayKDif,dea:dayKDea,labels:dayKLabels,grid:dayKLabels,mlabels:dayKMacdLabels,mzero:[0],mgrid:[-50],ticks:dayKTicks});
addPanel({left:1280.7,top:T2,width:588,h1:H12,h2:H22,min:3167.9,max:4296.7,mmin:-63,mmax:112.5,candles:wkCandles,ma:wkMa,hist:wkHist,dif:wkDif,dea:wkDea,grid:wkGrid,mzero:[0],mgrid:[54],ticks:wkTicks});

// frames
const gr=[];
const ln=(x1,y1,x2,y2,c)=>gr.push({type:'line',silent:true,z:20,shape:{x1,y1,x2,y2},style:{stroke:c||RED,lineWidth:1}});
gr.push({type:'rect',silent:true,z:20,shape:{x:0,y:0,width:1871,height:1.5},style:{fill:'#c00000'}});
ln(.5,0,.5,952);ln(55.5,21.5,55.5,484);ln(55.5,21.5,589.5,21.5);ln(589.5,21.5,589.5,952);
ln(55.5,176.5,589.5,176.5);ln(55.5,330.5,589.5,330.5);ln(0,484.5,1871,484.5);
[640.5,1229.5,1280.5,1868.5].forEach(x=>ln(x,0,x,952));
[[640.5,1229.5],[1280.5,1868.5]].forEach(([a,b])=>{ln(a,351.5,b,351.5);ln(a,468.5,b,468.5);});
[[0,589.5],[640.5,1229.5],[1280.5,1868.5]].forEach(([a,b])=>{ln(a,834.5,b,834.5);ln(a,951.5,b,951.5);});
const tx=(x,y,text,fill,font,size)=>gr.push({type:'text',silent:true,z:22,x,y,style:{text,fill,font:`${size}px ${font}`,verticalAlign:'middle'}});
gr.push({type:'rect',silent:true,z:21,shape:{x:643,y:2,width:92,height:15},style:{fill:'#3a0e78'}});
const TS=12.5;
tx(57,11,'沪深300',RED,CJK,TS);
tx(111,11,'3954.99 -1.20%',NAVY,NUM,NS);
tx(204,11,'▼-48.09',NAVY,NUM,NS);
tx(253,11,'涨家 71',RED,CJK,TS);
tx(296,11,'跌家',RED,CJK,TS);
tx(322,11,'220',NAVY,NUM,NS);
[[643,9.5,'沪深300(15分钟)',745],[1283,9.5,'沪深300(30分钟)',1385],[3,492.5,'沪深300(60分钟)',105],[643,492.5,'沪深300(日线)',731],[1283,492.5,'沪深300(周线)',1371]].forEach(([x,y,t,cx])=>{
  tx(x,y,t,RED,CJK,TS);
  gr.push({type:'circle',silent:true,z:22,shape:{cx,cy:y,r:5.5},style:{fill:'#808080'}});
  gr.push({type:'polyline',silent:true,z:23,shape:{points:[[cx-3,y-1.5],[cx,y+1.5],[cx+3,y-1.5]]},style:{stroke:'#fff',lineWidth:1.3,fill:'none'}});
});
// watermark
const wmF='rgba(246,246,246,0.93)',wmS='#b4b4b4';
gr.push({type:'ellipse',silent:true,z:30,shape:{cx:1525,cy:859,rx:25,ry:22},style:{fill:wmF,stroke:wmS,lineWidth:1}});
gr.push({type:'polygon',silent:true,z:30,shape:{points:[[1507,873],[1510,884],[1522,878]]},style:{fill:wmF,stroke:wmS,lineWidth:1}});
gr.push({type:'ellipse',silent:true,z:31,shape:{cx:1549,cy:878,rx:23,ry:20},style:{fill:'#f8f8f8',stroke:wmS,lineWidth:1.2}});
gr.push({type:'polygon',silent:true,z:31,shape:{points:[[1558,894],[1566,899],[1565,889]]},style:{fill:'#f8f8f8',stroke:wmS,lineWidth:1}});
[[1515,851],[1535,851],[1542,869],[1556,869]].forEach(([cx,cy])=>gr.push({type:'circle',silent:true,z:32,shape:{cx,cy,r:2.6},style:{fill:'#fff',stroke:'#888',lineWidth:1}}));
gr.push({type:'text',silent:true,z:33,x:1580,y:872,style:{text:'期权研究院',font:`46px ${CJK}`,fill:'#f6f6f6',stroke:'#a0a0a0',lineWidth:1,verticalAlign:'middle'}});

const chart=echarts.init(document.getElementById('c'),null,{renderer:'canvas'});
chart.setOption({animation:false,backgroundColor:'#fff',tooltip:{show:false},grid:grids,xAxis:xAxes,yAxis:yAxes,series,graphic:{elements:gr}});
</script></body></html>
